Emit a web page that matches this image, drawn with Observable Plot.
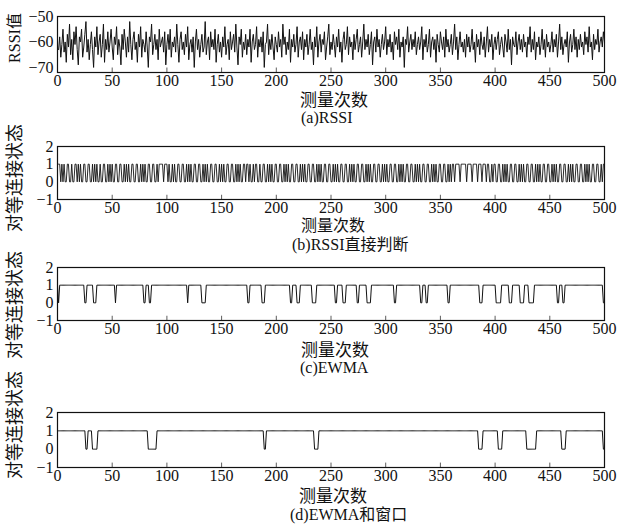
<!DOCTYPE html>
<html><head><meta charset="utf-8">
<script src="https://cdn.jsdelivr.net/npm/d3@7"></script>
<script src="https://cdn.jsdelivr.net/npm/@observablehq/plot@0.6"></script>
<style>
body{margin:0;background:#fff}
#root{position:relative;width:622px;height:526px;font-family:"Liberation Serif","Noto Sans CJK SC",serif;color:#111}
.p{position:absolute;left:0}
.t{position:absolute;white-space:nowrap;font-size:17px;line-height:1}
.yl{position:absolute;white-space:nowrap;font-size:18px;line-height:1;transform:translate(-50%,-50%) rotate(-90deg)}
</style></head><body><div id="root"></div>
<script>
// ---- data ----
const xTicks = [0,50,100,150,200,250,300,350,400,450,500];
const rssiTicks = [-70,-60,-50];
const stateTicks = [-1,0,1,2];
const rssi = [
-63,-58,-66,-61,-55,-64,-60,-68,-57,-62,-53,-65,-59,-67,-56,-61,-54,-63,-69,-58,-60,-55,-66,-62,-57,
-52,-64,-59,-67,-61,-56,-63,-70,-58,-62,-54,-65,-60,-57,-66,-61,-53,-68,-59,-63,-56,-64,-60,-55,-62,
-67,-58,-61,-54,-65,-59,-62,-69,-57,-63,-55,-60,-66,-58,-64,-52,-61,-67,-59,-56,-63,-60,-68,-57,-62,
-54,-66,-59,-61,-64,-56,-62,-70,-58,-60,-53,-65,-61,-57,-63,-59,-67,-55,-62,-60,-58,-64,-56,-69,-61,
-57,-63,-55,-66,-60,-62,-58,-64,-53,-61,-68,-59,-56,-63,-60,-65,-57,-62,-54,-67,-61,-59,-64,-58,-70,
-60,-55,-63,-59,-66,-61,-57,-64,-62,-52,-65,-60,-58,-67,-56,-62,-59,-63,-55,-68,-61,-57,-64,-60,-66,
-58,-62,-54,-65,-61,-59,-67,-56,-63,-60,-57,-64,-53,-62,-69,-58,-61,-55,-66,-60,-63,-57,-65,-59,-62,
-55,-68,-60,-57,-63,-61,-54,-66,-59,-62,-58,-64,-56,-70,-61,-60,-53,-65,-59,-63,-57,-62,-67,-58,-61,
-64,-56,-62,-59,-66,-53,-61,-58,-65,-60,-63,-55,-68,-59,-62,-57,-64,-61,-54,-66,-60,-58,-63,-56,-67,
-59,-62,-57,-65,-61,-55,-63,-60,-69,-58,-62,-54,-66,-60,-57,-64,-59,-61,-56,-67,-62,-58,-53,-65,-60,
-63,-57,-61,-66,-58,-62,-55,-64,-60,-68,-59,-56,-63,-61,-54,-65,-58,-62,-60,-67,-57,-63,-59,-55,-64,
-61,-58,-66,-60,-53,-63,-59,-62,-57,-65,-61,-56,-69,-60,-58,-64,-55,-62,-59,-66,-61,-57,-63,-60,-54,
-65,-59,-62,-57,-64,-60,-67,-56,-61,-58,-63,-55,-66,-60,-62,-58,-70,-59,-61,-54,-64,-60,-57,-63,-59,
-62,-56,-65,-61,-58,-63,-60,-54,-67,-59,-62,-57,-64,-61,-55,-66,-60,-58,-63,-59,-68,-57,-61,-64,-56,
-60,-63,-58,-66,-55,-62,-59,-64,-61,-57,-65,-60,-53,-63,-58,-67,-61,-56,-62,-60,-64,-59,-66,-57,-62,
-58,-64,-61,-55,-63,-60,-68,-57,-62,-59,-65,-56,-61,-63,-58,-66,-60,-54,-64,-59,-62,-57,-67,-61,-58,
-63,-59,-56,-65,-61,-58,-62,-66,-57,-60,-64,-55,-63,-59,-69,-58,-61,-62,-56,-65,-60,-57,-63,-59,-64,
-57,-62,-60,-66,-58,-61,-54,-64,-59,-63,-56,-67,-60,-62,-58,-65,-61,-55,-63,-59,-66,-57,-62,-60,-64,
-61,-56,-64,-59,-62,-57,-66,-60,-53,-63,-58,-65,-61,-59,-62,-56,-68,-60,-57,-64,-61,-55,-63,-58,-66,
-59,-63,-57,-62,-60,-65,-56,-61,-58,-64,-54,-62,-60,-67,-57,-63,-59,-61,-55,-64,-60,-58,-62,-56,-60
];
// (b) sample indices where the direct RSSI judgement gives state 0
const directZeros = [3,5,7,8,11,12,14,15,18,20,22,23,26,27,30,31,33,35,37,38,40,41,44,45,47,49,51,52,55,56,59,60,62,64,66,67,70,71,74,75,77,79,81,82,85,86,89,90,92,97,101,103,104,106,108,109,112,113,116,117,119,121,123,124,127,128,131,132,134,136,138,139,142,143,146,147,149,151,153,154,157,158,161,162,164,166,168,169,172,175,177,178,180,183,184,186,187,190,191,193,195,197,198,201,202,205,206,208,210,212,213,216,217,220,221,223,225,227,228,231,232,235,236,238,240,242,243,246,247,250,251,253,255,257,258,261,262,265,266,268,270,272,273,276,277,280,281,283,285,287,288,291,292,295,296,298,300,302,303,306,307,310,311,313,315,317,318,321,322,325,326,328,330,332,333,336,337,340,341,343,345,347,348,351,352,355,356,358,360,363,368,374,379,384,388,392,395,396,398,401,402,405,406,408,410,412,413,416,417,420,421,423,425,427,428,431,432,435,436,438,440,442,443,446,447,450,451,453,455,457,458,461,462,465,466,468,470,472,473,476,477,480,481,483,485,487,488,491,492,495,496,498];
// (c) EWMA: [start, end] of samples at state 0
const ewmaDips = [[1,1],[25,26],[33,35],[53,53],[79,80],[84,85],[119,119],[132,135],[174,175],[187,189],[213,214],[219,221],[233,236],[254,255],[261,263],[274,275],[283,286],[308,309],[332,333],[337,338],[357,358],[386,388],[401,405],[413,415],[423,426],[431,435],[457,458],[462,463],[499,500]];
// (d) EWMA + window: [start, end] of samples at state 0
const windowDips = [[26,27],[32,36],[83,90],[189,190],[235,238],[385,388],[403,406],[429,437],[461,464],[499,500]];

// ---- build ----
const rssiData = rssi.map((v, i) => ({x: i + 1, y: v}));
const zeroSet = new Set(directZeros);
const directData = d3.range(0, 501).map(i => ({x: i, y: zeroSet.has(i) ? 0 : 1}));
const fromDips = dips => d3.range(0, 501).map(i => ({x: i, y: dips.some(([a, b]) => i >= a && i <= b) ? 0 : 1}));
const ewmaData = fromDips(ewmaDips);
const windowData = fromDips(windowDips);

const root = document.getElementById("root");
function panel(data, yDomain, yTicks, top, frameH, sw) {
  const mt = 16, mb = 26;
  const span = yDomain[1] - yDomain[0];
  const chart = Plot.plot({
    width: 622, height: mt + frameH + mb,
    marginTop: mt, marginBottom: mb, marginLeft: 57, marginRight: 18,
    style: {fontFamily: "Liberation Serif, serif", fontSize: "16px", color: "#111", background: "transparent", overflow: "visible"},
    x: {domain: [0, 500], ticks: xTicks, tickFormat: "d", tickSize: 0, tickPadding: 2, label: null},
    y: {domain: yDomain, ticks: yTicks, tickFormat: "d", tickSize: 0, tickPadding: 4, label: null},
    marks: [
      Plot.ruleX(xTicks.slice(1, -1), {y1: yDomain[0], y2: yDomain[0] + span * 0.08, stroke: "#333", strokeWidth: 0.8}),
      Plot.line(data, {x: "x", y: "y", stroke: "#111", strokeWidth: sw}),
      Plot.frame({stroke: "#111", strokeWidth: 1.2})
    ]
  });
  chart.classList.add("p");
  chart.style.top = top + "px";
  root.appendChild(chart);
}
panel(rssiData, [-72, -50], rssiTicks, 0, 56, 1);
panel(directData, [-1, 2], stateTicks, 130, 53, 0.9);
panel(ewmaData, [-1, 2], stateTicks, 251, 53, 1);
panel(windowData, [-1, 2], stateTicks, 396, 55, 1);

function text(s, left, top, cls, size) {
  const d = document.createElement("div");
  d.className = cls; d.textContent = s;
  d.style.left = left + "px"; d.style.top = top + "px";
  if (size) d.style.fontSize = size + "px";
  root.appendChild(d);
}
text("测量次数", 300, 92, "t", 17);
text("(a)RSSI", 301, 110, "t", 16);
text("测量次数", 301, 218, "t", 16);
text("(b)RSSI直接判断", 292, 237, "t", 16);
text("测量次数", 301, 342, "t", 17);
text("(c)EWMA", 300, 360, "t", 16);
text("测量次数", 299, 488, "t", 17);
text("(d)EWMA和窗口", 290, 507, "t", 16);
text("RSSI值", 15, 38, "yl", 16);
text("对等连接状态", 15, 178, "yl", 18);
text("对等连接状态", 15, 305, "yl", 18);
text("对等连接状态", 15, 425, "yl", 18);
</script>
</body></html>
